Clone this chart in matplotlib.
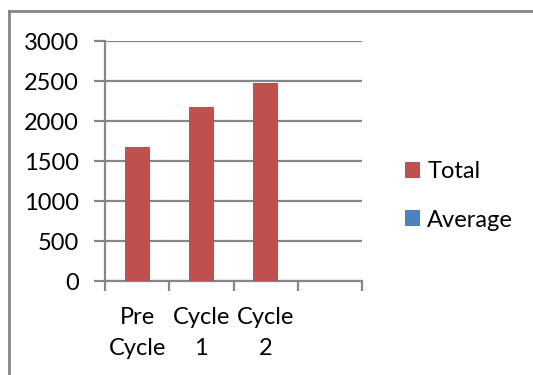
import matplotlib.pyplot as plt
from matplotlib.patches import Patch
from matplotlib.lines import Line2D

plt.rcParams['font.family'] = ['Lato', 'DejaVu Sans']

categories = ['Pre\nCycle', 'Cycle\n1', 'Cycle\n2', '']
totals = [1670, 2170, 2480]
series_names = ['Total', 'Average']
series_colors = ['#C0504D', '#4F81BD']
yticks = [0, 500, 1000, 1500, 2000, 2500, 3000]

grey = '#868686'

fig = plt.figure(figsize=(5.33, 3.75), dpi=100)
ax = fig.add_axes([105 / 533, 1 - 281 / 375, 257 / 533, 240 / 375])

ax.bar(range(len(totals)), totals, width=0.39, color=series_colors[0], zorder=3)

ax.set_xlim(-0.5, len(categories) - 0.5)
ax.set_ylim(0, 3000)
ax.set_yticks(yticks)
ax.yaxis.grid(True, color=grey, linewidth=1.6, zorder=0)

ax.set_xticks(range(len(categories)))
ax.set_xticklabels(categories, fontsize=17, linespacing=1.55)
ax.set_xticks([i - 0.5 for i in range(len(categories) + 1)], minor=True)
ax.tick_params(axis='x', which='major', length=0, pad=19)
ax.tick_params(axis='x', which='minor', length=7, width=1.6, color=grey, direction='out')
ax.tick_params(axis='y', length=8, width=1.6, color=grey, labelsize=17, pad=11)

for s in ['top', 'right']:
    ax.spines[s].set_visible(False)
for s in ['left', 'bottom']:
    ax.spines[s].set_color(grey)
    ax.spines[s].set_linewidth(1.6)

handles = [Patch(facecolor=c, edgecolor='none') for c in series_colors]
fig.legend(handles, series_names, loc='center left',
           bbox_to_anchor=(405 / 533, 1 - 196 / 375), frameon=False,
           fontsize=17, handlelength=0.64, handleheight=0.64,
           handletextpad=0.3, labelspacing=1.15, borderpad=0, borderaxespad=0)

# chart area frame, open at the right and bottom
fig.add_artist(Line2D([9 / 533, 1], [1 - 11 / 375] * 2, color=grey, linewidth=2))
fig.add_artist(Line2D([9 / 533] * 2, [0, 1 - 11 / 375], color=grey, linewidth=2))

fig.savefig('out.png', dpi=100)
